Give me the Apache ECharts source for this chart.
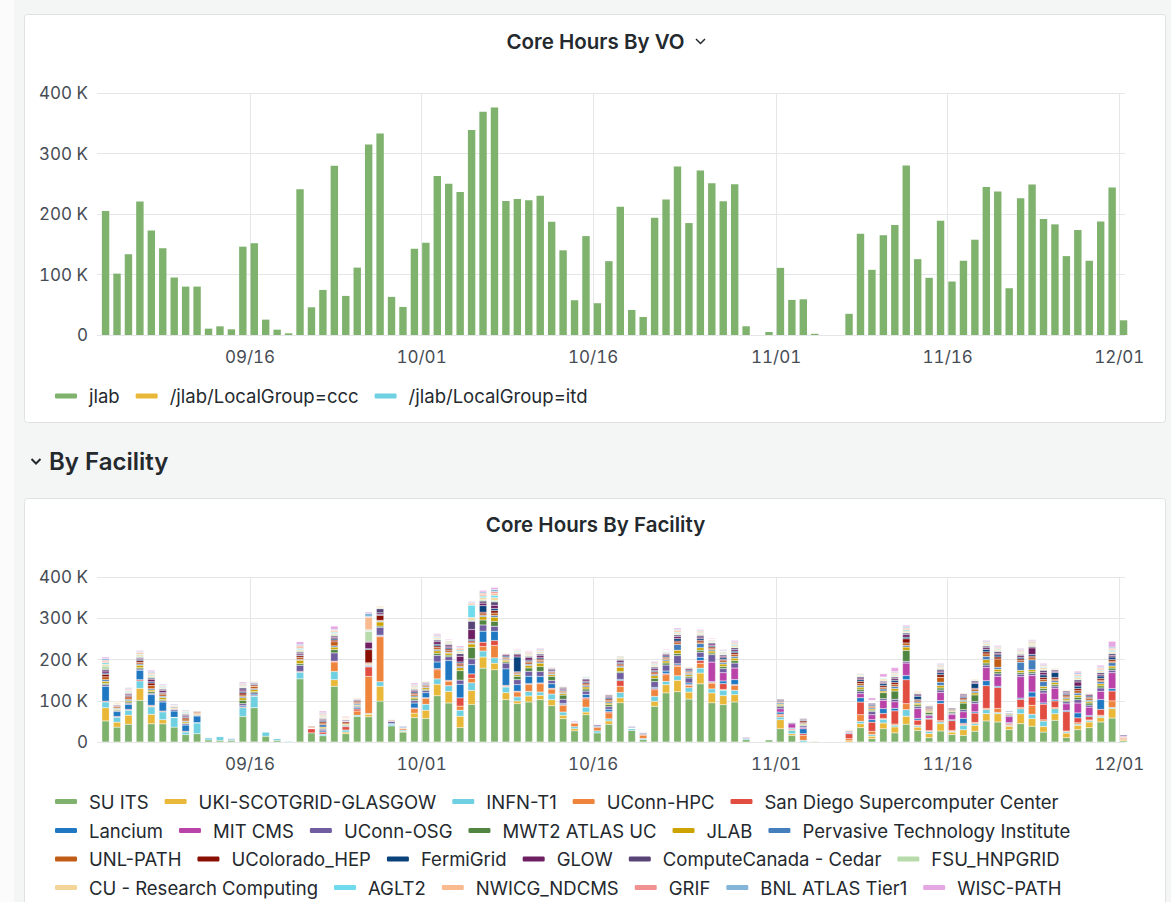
<!DOCTYPE html>
<html><head><meta charset="utf-8">
<script src="https://cdn.jsdelivr.net/npm/echarts@6/dist/echarts.min.js"></script>
<style>html,body{margin:0;padding:0;overflow:hidden;background:#f4f5f5}#c{width:1171px;height:902px}
#c text[text-anchor="middle"],#c text[text-anchor="end"]{font-variant-numeric:tabular-nums}</style>
</head><body><div id="c"></div>
<script>
// ---------- DATA (values in thousands of core hours) ----------
const firstDay = '2021-09-03';           // first daily bucket
const xTickLabels = ['09/16', '10/01', '10/16', '11/01', '11/16', '12/01'];
const tickYear = 2021;
const yTickLabels = ['0', '100 K', '200 K', '300 K', '400 K'];

// Core Hours By VO
const jlab = [205,101.5,133.5,220.7,172.7,143.4,95,80,80,10.5,
  14.3,9.4,146,151.7,25.4,8.8,2.8,241,45.8,74.5,
  279.7,64.6,111.4,315,333,63,46.4,142.5,152.5,263,
  250,236.5,339,369,376,221.5,225,222.7,230,187,
  140,57.5,163.5,52.5,122,212,41.4,29.8,194,224,
  278.5,185,272,251,221,249,14.4,0,5,111,
  58,59,2,0,0,35,167.4,107.7,165,181.8,
  280,125.4,94.5,189,88.4,122.7,157.5,244.8,237,77.3,
  226,248.6,191.7,182.9,130.4,173.5,122.7,187.8,244,24.3];
const jlabCcc = [];
const jlabItd = [];
const voNames = ['jlab', '/jlab/LocalGroup=ccc', '/jlab/LocalGroup=itd'];

// Core Hours By Facility
const suIts = [51,36,43,101,44,44,36,18,20,5, 4,4,62,83,14,4,1,153,22,15, 135,20,62,61,99,39,24,59,57,112, 94.5,35,91,179,175,102.6,93,97,102.6,88, 56.6,27,66,22,43,95,28,5.6,86.5,119, 122,104,141,95,90.5,97,5.6,0,5,32, 16,0,0,0,0,0,34.7,8,32,22, 43,28,10.5,26.7,17.8,16,26,51,48.5,30, 44.4,38,24,52.5,10.5,30,34.7,48.5,58,3];
const ukiGlasgow = [32,12,22,29,23,10,0,0,0,0, 0,0,0,0,0,0,0,0,0,0, 16,4,0,6,36,0,2,11,20,28, 28,27.5,34,27,16,17,6.5,14.5,10.5,14.5, 8,5,6.5,0,8,12,0,0,12,20, 27.5,17,26,24,22,17.8,0,0,0,22, 4,0,0,0,0,3,9.7,6,14,14.5, 19.4,8,10,17.8,6,13.7,14.5,17.8,20,8, 24,18.6,13.7,16,11,10.5,13.7,10.5,22.6,3];
const infnT1 = [14,12,12,18,18,19,23,6,26,5, 9,2,21,28,10,4,1.8,16,0,4, 20,5,3,2,11,4,3,0,14.5,13, 14,14.5,18.5,14.5,13,13.7,9.7,11,8,13.7, 8,5,12,5,5,13,4,3,12,8, 11,10.5,12,9.7,13,10.5,3,0,0,6.5, 8,4,0,0,0,0,5.7,4,9,4, 16,3,5,4,2,10.5,4,9.7,3,2, 12,10.5,13,12,3,3,3,3,3,0];
const uconnHpc = [0,0,0,0,2,0,0,0,0,0, 0,0,0,0,0,0,0,0,0,0, 23,0,10,90,109,0,4,10.5,14,22, 11,10,11,11,30,2,12,17,20,12, 16,8,20,8,14.5,15,1,8,16,16, 23,5.7,12,14,2,12,0,0,0,4, 2,12,0,0,0,5,16,8,2,3, 14.5,2,2,3,2,2,3,3,9.7,2, 3,22,3,3,2,3,2,3,16,3];
const sdsc = [2,2,2,3,2,2,1,2,1,0, 0,0,2,2,0,0,0,2,10,5, 2,8,5,23,2,0,1,2,2,3, 2,20,10.5,10.5,12,2,2,2,2,2, 2,2,3,2,3,14,1,2,3,3, 3,2,6.5,2,14,2,0,0,0,3, 2,4,0,0,0,12,30.7,22,12,32, 58,12,28,42,24,3,22.6,55,51,3, 20,20,38,16,47,12,8,14,24,2];
const lancium = [36,12,12,23,26,22,15,15,16,0, 0,2.4,3,3,0,0,0,0,0,3, 0,0,3,2,2,2,2,12,12,16, 48,33,22.6,26.7,22.6,40,16,18,16,11, 3,1,8,2,6,3,1,2,3,6, 3,4,8,2,6.5,12,0,0,0,5, 2,12,0,0,0,2,10.5,6,12,6, 10.5,4,2,6.5,2,12,3,12,3,2, 3,12,3,3,3,12,3,24,5.7,1];
const mitCms = [0,0,0,0,0,0,0,0,0,0, 0,0,0,0,0,0,0,0,0,0, 0,0,0,0,0,0,0,0,0,0, 0,0,0,0,0,0,0,0,0,0, 0,0,0,0,0,0,0,0,0,0, 0,0,0,47,20,28,2,0,0,8, 10,3,0,0,0,2,9.7,12,20,16, 30,24,6,20,13,16,20,32,24,14.5, 52,40,24,28,16,24,20,20,38.8,2];
const uconnOsg = [4,2,3,3,3,3,4,3,2,0, 0,0,5,3,0,0,0,15,1,4, 20,2,3,2,19,5,2,6,5,16, 9,10,14,15,12,14,12,12,12,8, 10,2,8,3,6,16,3,2,14,14.5, 20,12,12,18,10,12,1.5,0,0,5, 3,4,0,0,0,2,6,8,4,6, 4,5,3,6,3,5,5,6,6,3, 6,5,6,5,5,8,5,8,6,3];
const mwt2 = [3,2,3,3,4,3,1,2,1,0, 0,0,8,3,0,0,0,4,0,2, 8,2,2,1,3,1,1,4,3,5, 4,23,28,12,12,3,8,8,12,10, 10,1,5,1,5,3,0.5,1,8,5, 5,4,5,4,5,6,0,0,0,3, 1,2,0,0,0,0,5,3,14.5,20, 26.7,4,5,5,3,16,16,5,5,2, 4,4,5,4,3,6,5,5,5,1];
const jlabSite = [5,2,3,6,4,5,2,3,2,0, 0,0,6,5,0,0,0,8,1,3, 6,2,2,2,10,1,1,4,4,6, 5,7,8,8,10,4,4,6,8,4, 4,1,5,1,4,10,0.5,1,6,5, 8,4,6,5,6,6,0,0,0,3, 1,2,0,0,0,2,5,3,4,6, 8,4,3,6,2,4,5,8,6,2, 5,5,5,5,4,5,4,5,5,1];
const pti = [4,2,3,3,3,3,2,2,1,0, 0,0,3,2,0,0,0,2,0,6, 3,0,3,1,2,0,0,3,2,3, 2,3,2,3,4,2,2,3,3,2, 2,0,3,1,3,3,0,0,3,3, 14,3,10,3,4,4,0,0,0,3, 1,2,0,0,0,0,4,3,5,5, 4,3,2,8,2,3,4,8,5,2, 20,24,12,4,3,5,3,5,8,1];
const unlPath = [7,3,4,4,8,4,2,5,3,0, 0,0,4,6,0,0,0,5,2,4, 10,3,3,2,2,2,1,4,3,5, 4,4,3,4,6,3,3,4,4,3, 3,1,4,1,4,3,0.5,1,4,3, 4,3,4,4,4,5,0,0,0,2, 1,2,0,0,0,1,5,3,4,5, 6,3,3,12,2,3,4,6,20,1, 4,5,5,4,4,6,4,4,4,1];
const ucolorado = [6,2,4,4,6,3,1,3,2,0, 0,0.5,5,3,0,0,0,4,2,3, 4,3,3,32,12,1,1,3,2,4, 4,4,3,4,6,2,2,3,3,2, 2,1,3,1,3,3,0.5,1,3,3, 4,2,4,3,3,4,0,0,0,2, 1,4,0,0,0,1,5,2,4,5, 10,3,2,6,2,3,3,5,5,1, 4,4,5,4,3,5,3,4,4,0];
const fermiGrid = [3,1,2,3,3,2,1,2,1,0, 0,0,3,2,0,0,0,2,1,3, 3,1,2,2,2,1,1,3,2,4, 3,3,3,16,5,3,36,3,3,2, 2,1,3,1,3,3,0,0.5,3,3, 6,3,4,3,4,4,0,0,0,2, 1,2,0,0,0,1,4,3,5,5, 4,8,2,5,2,3,12,6,5,2, 4,4,6,12,3,6,3,6,6,1];
const glow = [5,2,3,3,6,5,1,3,1,0, 0,0,4,2,0,0,0,4,1,3, 4,2,2,16,4,1,1,3,2,6, 4,14,24,6,8,3,5,6,5,3, 3,1,4,1,3,4,0.5,0.5,4,3, 5,3,4,4,4,4,1,0,0,2, 1,2,0,0,0,1,4,2,3,4, 6,3,2,4,1,3,3,4,4,1, 4,16,6,3,3,10,3,4,4,1];
const computeCanada = [4,1,2,2,3,3,2,3,1,0, 0,0,5,2,0,0,0,3,1,2, 3,2,1,2,10,1,1,3,2,4, 4,6,20,5,8,2,3,3,4,3, 3,1,3,1,3,3,0.5,1,4,3, 4,2,4,3,3,4,1,0,0,2, 1,2,0,0,0,1,3,2,3,4, 4,3,2,4,1,3,3,4,4,1, 3,3,5,3,3,5,2,4,4,1];
const fsu = [8,2,2,3,3,2,1,2,1,0, 0,0,2,1,0,0,0,3,0,2, 3,1,1,24,2,1,0,2,1,2, 2,2,3,3,4,1,2,2,2,1, 1,0,1,0,1,2,0,0,2,1, 2,1,2,1,2,2,0,0,0,1, 0,0,0,0,0,0,2,1,1,2, 2,2,1,2,1,1,2,2,2,0.5, 2,3,2,2,1,2,1,2,2,0];
const cuResearch = [4,2,2,3,3,2,1,2,1,0, 0.5,0,2,2,0,0,0,3,1,3, 3,2,2,2,2,1,1,3,2,3, 3,4,6,5,6,2,2,3,3,2, 2,0.5,2,1,2,3,0.4,0.7,3,2, 3,2,3,2,2,3,0.3,0,0,1, 1,1,2,0,0,1,2,1,4,3, 3,2,2,3,1,2,2,3,3,0.5, 3,3,4,2,2,4,2,3,3,0.3];
const aglt2 = [4,1,2,2,2,2,1,2,0,0, 0.8,0,2,1,0,0,0,3,1,2, 3,1,1,2,1,0,0,2,1,2, 2,3,30,4,6,1,2,2,2,1, 1,0,2,0.5,1,2,0,0.5,2,2, 2,1,2,2,2,3,0,0,0,1, 0,0,0,0,0,1,2,1,2,2, 3,1,1,2,0.6,1,1,2,2,0.3, 2,2,2,1,1,3,1,2,3,0];
const nwicg = [3,2,2,3,3,2,1,2,1,0, 0,0,2,1,0,0,0,4,1,3, 3,2,1,30,2,1,0.4,2,1,2, 2,3,3,4,5,1,2,2,2,1, 1,0,1,0.5,1,2,0,0,2,1, 3,1,2,2,2,3,0,0,0,1, 1,1,0,0,0,0,2,1,1,2, 3,2,1,2,0.5,1,1,2,2,0.5, 2,3,2,1,1,3,1,3,3,0];
const grif = [3,1,2,2,2,1,0,1,0,0, 0,0.5,2,1,0.7,0,0,3,1,2, 2,2,1,2,1,1,0.5,2,1,2, 1,2,2,3,4,1,1,2,2,1, 1,0,1,0.5,1,1,0,0,2,1, 2,1,2,1,1,2,0,0,0,1, 1,0,0,0,0,0,1,1,1,2, 2,1,1,2,0.5,1,1,2,2,0, 2,2,2,1,1,2,1,2,2,0];
const bnl = [4,1,2,2,3,2,1,2,0,0.5, 0,0,2,1,0.7,0.8,0,3,0.8,2, 2,1,1,8,1,1,0.5,2,1,2, 1,2,2,3,5,1,1,1,2,1, 1,0,1,0,1,1,0,0,2,1, 2,1,2,1,2,2,0,0,0,1, 0,0,0,0,0,0,1,1,1,2, 3,1,1,2,0,1,1,2,2,0, 2,2,2,1,1,3,1,2,3,0];
const wiscPath = [4,1,2,2,3,2,0,1,0,0, 0,0,3,1,0,0,0,6,0,4, 8,1,1,3,1,0,0,3,1,3, 2,3,2,4,5,1,2,2,2,1, 1,0,1,0,1,1,0,0,2,2, 3,1,2,2,2,3,0,0,0,1, 0,0,0,0,0,0,1,6,8,10, 3,1,1,2,0,1,1,2,2,0, 2,2,3,1,1,4,1,4,14,0];

const facilityNames = ['SU ITS','UKI-SCOTGRID-GLASGOW','INFN-T1','UConn-HPC','San Diego Supercomputer Center',
  'Lancium','MIT CMS','UConn-OSG','MWT2 ATLAS UC','JLAB','Pervasive Technology Institute',
  'UNL-PATH','UColorado_HEP','FermiGrid','GLOW','ComputeCanada - Cedar','FSU_HNPGRID',
  'CU - Research Computing','AGLT2','NWICG_NDCMS','GRIF','BNL ATLAS Tier1','WISC-PATH'];
const facilityValues = [suIts, ukiGlasgow, infnT1, uconnHpc, sdsc, lancium, mitCms, uconnOsg, mwt2, jlabSite, pti,
  unlPath, ucolorado, fermiGrid, glow, computeCanada, fsu, cuResearch, aglt2, nwicg, grif, bnl, wiscPath];
// how many legend entries sit on each legend row (as in the reference)
const legendRowSizes = [5, 6, 6, 6];

// ---------- STYLE ----------
const voColors = ['#7EB26D', '#EAB839', '#6ED0E0'];
const facilityColors = ['#7EB26D','#EAB839','#6ED0E0','#EF843C','#E24D42','#1F78C1','#BA43A9','#705DA0','#508642',
  '#CCA300','#447EBC','#C15C17','#890F02','#0A437C','#6D1F62','#584477','#B7DBAB','#F4D598','#70DBED','#F9BA8F',
  '#F29191','#82B5D8','#E5A8E2'];
const FONT = 'Inter, "Noto Sans", sans-serif';
const TXT = '#24292e';
const AX = '#464c54';
const GRIDC = '#e5e6e8';

// ---------- BUILD ----------
const DAY = 86400000;
const HOUR = 3600000;
const day0 = Date.parse(firstDay + 'T00:00:00Z');
const dayTimes = jlab.map((_, i) => day0 + i * DAY);
const barShift = 9 * HOUR;            // Grafana draws each bar just after its timestamp
const axisMin = Date.UTC(2021, 8, 2, 15);
const axisMax = Date.UTC(2021, 11, 1, 12);
const tickValues = xTickLabels.map(l => {
  const [m, d] = l.split('/').map(Number);
  return Date.UTC(tickYear, m - 1, d);
});
const fmtDate = v => {
  const i = tickValues.findIndex(t => Math.abs(t - v) < HOUR);
  return i >= 0 ? xTickLabels[i] : '';
};
const fmtY = v => yTickLabels[Math.round(v / 100)] ?? String(v);
// value first, time second, so the stack is computed on the value dimension
const pts = arr => arr.map((v, i) => [v === 0 ? null : v, dayTimes[i] + barShift]);

function xAxis(i) {
  return {
    type: 'value', gridIndex: i, min: axisMin, max: axisMax,
    axisLine: { show: false },
    axisTick: { show: false, customValues: tickValues },
    axisLabel: { customValues: tickValues, formatter: fmtDate, color: AX, fontSize: 17, fontFamily: FONT, margin: 13, showMinLabel: true, showMaxLabel: true },
    splitLine: { show: true, lineStyle: { color: GRIDC, width: 1 } }
  };
}
function yAxis(i) {
  return {
    type: 'value', gridIndex: i, min: 0, max: 400, interval: 100,
    axisLine: { show: false }, axisTick: { show: false },
    axisLabel: { formatter: fmtY, color: AX, fontSize: 17, fontFamily: FONT, margin: 9 },
    splitLine: { lineStyle: { color: GRIDC, width: 1 } }
  };
}
const legendText = { fontSize: 18.5, color: TXT, fontFamily: FONT, padding: [0, 0, 0, 7] };
const legendBase = { padding: 0, itemGap: 16, itemWidth: 22, itemHeight: 5, icon: 'roundRect',
  itemStyle: { borderWidth: 0 }, textStyle: legendText, selectedMode: false, left: 55 };

const series = [];
[jlab, jlabCcc, jlabItd].forEach((arr, k) => {
  series.push({
    name: voNames[k], type: 'bar', stack: 'vo', xAxisIndex: 0, yAxisIndex: 0, barWidth: 7.4,
    encode: { x: 1, y: 0 },
    data: pts(arr), itemStyle: { color: voColors[k] }
  });
});
facilityValues.forEach((arr, k) => {
  series.push({
    name: facilityNames[k], type: 'bar', stack: 'facility', xAxisIndex: 1, yAxisIndex: 1, barWidth: 7.4,
    encode: { x: 1, y: 0 },
    data: pts(arr),
    itemStyle: { color: facilityColors[k], borderColor: 'rgba(255,255,255,0.55)', borderWidth: 0.4 }
  });
});

const legends = [Object.assign({}, legendBase, { data: voNames, top: 386.5 })];
const rowCenters = [801, 830, 858.5, 887];
let start = 0;
legendRowSizes.forEach((n, r) => {
  legends.push(Object.assign({}, legendBase, { data: facilityNames.slice(start, start + n), top: rowCenters[r] - 9 }));
  start += n;
});

const chev = (p, w) => ({ type: 'polyline', z: 5, shape: { points: p }, style: { stroke: TXT, lineWidth: w, fill: null } });

const option = {
  animation: false,
  backgroundColor: '#f4f5f5',
  graphic: [
    { type: 'rect', z: -100, shape: { x: 0, y: 0, width: 14, height: 902 }, style: { fill: '#fbfbfb' } },
    { type: 'rect', z: -100, shape: { x: 24.5, y: 14.5, width: 1141, height: 408, r: 3 }, style: { fill: '#ffffff', stroke: '#dfe1e4', lineWidth: 1 } },
    { type: 'rect', z: -100, shape: { x: 24.5, y: 498.5, width: 1141, height: 460, r: 3 }, style: { fill: '#ffffff', stroke: '#dfe1e4', lineWidth: 1 } },
    { type: 'text', z: 5, x: 595.5, y: 41, style: { text: 'Core Hours By VO', font: '600 20.5px ' + FONT, fill: TXT, textAlign: 'center', textVerticalAlign: 'middle' } },
    chev([[696, 39], [700.5, 43.5], [705, 39]], 1.5),
    { type: 'text', z: 5, x: 49, y: 461, style: { text: 'By Facility', font: '600 24px ' + FONT, fill: TXT, textAlign: 'left', textVerticalAlign: 'middle' } },
    chev([[31.5, 459], [36, 463.5], [40.5, 459]], 2),
    { type: 'text', z: 5, x: 595.5, y: 524, style: { text: 'Core Hours By Facility', font: '600 20.5px ' + FONT, fill: TXT, textAlign: 'center', textVerticalAlign: 'middle' } }
  ],
  grid: [
    { left: 97, top: 93, width: 1028, height: 242 },
    { left: 97, top: 577, width: 1028, height: 165 }
  ],
  xAxis: [xAxis(0), xAxis(1)],
  yAxis: [yAxis(0), yAxis(1)],
  legend: legends,
  series: series
};

const chart = echarts.init(document.getElementById('c'), null, { renderer: 'svg', width: 1171, height: 902 });
chart.setOption(option);
</script>
</body></html>
